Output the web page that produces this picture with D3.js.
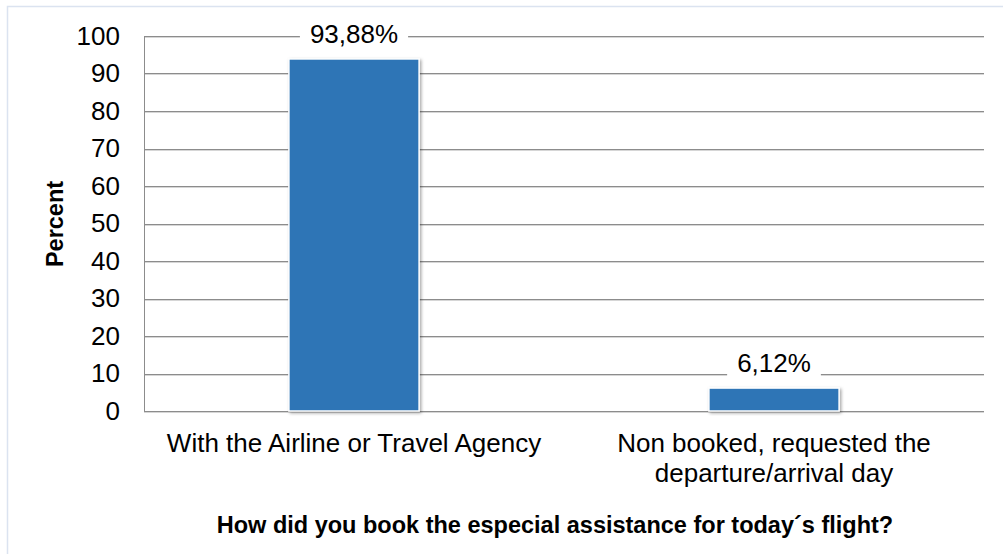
<!DOCTYPE html>
<html>
<head>
<meta charset="utf-8">
<script src="https://cdn.jsdelivr.net/npm/d3@7"></script>
<style>
  html, body { margin: 0; padding: 0; background: #fff; }
  svg { display: block; font-family: "Liberation Sans", Arial, sans-serif; }
</style>
</head>
<body>
<svg id="chart" width="1003" height="554"></svg>
<script>
// Booking channel for special assistance (percent of respondents)
const categories = [
  ["With the Airline or Travel Agency"],
  ["Non booked, requested the", "departure/arrival day"]
];
const values = [93.88, 6.12];
const valueLabels = ["93,88%", "6,12%"];
const yTicks = [0, 10, 20, 30, 40, 50, 60, 70, 80, 90, 100];
const yTitle = "Percent";
const xTitle = "How did you book the especial assistance for today\u00b4s flight?";

const FONT = "Liberation Sans, Arial, sans-serif";
const svg = d3.select("#chart");
const W = 1003, H = 554;
const margin = { left: 144, right: 19, top: 36, bottom: 143 };
const plotW = W - margin.left - margin.right;
const plotH = H - margin.top - margin.bottom;

// Outer frame
svg.append("rect")
  .attr("x", 7.5).attr("y", 6.5)
  .attr("width", W).attr("height", H)
  .attr("fill", "none").attr("stroke", "#dbe3f0").attr("stroke-width", 1.5);

const defs = svg.append("defs");
const f = defs.append("filter").attr("id", "shadow")
  .attr("x", "-20%").attr("y", "-20%").attr("width", "140%").attr("height", "140%");
f.append("feDropShadow").attr("dx", 1.5).attr("dy", 1.5).attr("stdDeviation", 1.8)
  .attr("flood-color", "#000").attr("flood-opacity", 0.35);

const g = svg.append("g").attr("transform", `translate(${margin.left},${margin.top})`);

const x = d3.scaleBand().domain(d3.range(values.length)).range([0, plotW]).paddingInner(0.69).paddingOuter(0.345);
const y = d3.scaleLinear().domain([0, 100]).range([plotH, 0]);

// Gridlines with a soft lighter line underneath
g.append("g").selectAll("line").data(yTicks).join("line")
  .attr("x1", 0).attr("x2", plotW)
  .attr("y1", d => Math.round(y(d)) + 0.5).attr("y2", d => Math.round(y(d)) + 0.5)
  .attr("stroke", "#8c8c8c").attr("stroke-width", 1);
g.append("g").selectAll("line").data(yTicks).join("line")
  .attr("x1", 0).attr("x2", plotW)
  .attr("y1", d => Math.round(y(d)) + 1.5).attr("y2", d => Math.round(y(d)) + 1.5)
  .attr("stroke", "#d6d6d6").attr("stroke-width", 1);

// Left axis line
g.append("line").attr("x1", 0.5).attr("x2", 0.5).attr("y1", 0).attr("y2", plotH)
  .attr("stroke", "#8c8c8c");

// Y tick labels
const yAxis = d3.axisLeft(y).tickValues(yTicks).tickSize(0).tickPadding(24);
const ya = g.append("g").call(yAxis);
ya.select(".domain").remove();
ya.attr("font-size", null).attr("font-family", null);
ya.selectAll("text").attr("font-size", 26).attr("fill", "#000").attr("font-family", FONT);

// Bars
g.append("g").selectAll("rect").data(values).join("rect")
  .attr("x", (d, i) => x(i)).attr("width", x.bandwidth())
  .attr("y", d => y(d)).attr("height", d => y(0) - y(d))
  .attr("fill", "#2e75b6").attr("stroke", "#ffffff").attr("stroke-width", 1.5)
  .attr("filter", "url(#shadow)");

// Value labels with white backing that interrupts the gridlines
const lab = g.append("g").selectAll("g").data(values).join("g")
  .attr("transform", (d, i) => `translate(${x(i) + x.bandwidth() / 2},${y(d) - 25})`);
const bg = lab.append("rect").attr("fill", "#fff");
const txt = lab.append("text").attr("text-anchor", "middle").attr("dy", "0.35em")
  .attr("font-size", 26).attr("fill", "#000").attr("font-family", FONT)
  .text((d, i) => valueLabels[i]);
txt.each(function (d, i) {
  const w = this.getComputedTextLength() + 20;
  d3.select(bg.nodes()[i]).attr("x", -w / 2).attr("width", w).attr("y", -15).attr("height", 30);
});

// Category labels
const cat = g.append("g").selectAll("text").data(categories).join("text")
  .attr("text-anchor", "middle").attr("font-size", 26).attr("fill", "#000").attr("font-family", FONT)
  .attr("transform", (d, i) => `translate(${x(i) + x.bandwidth() / 2},${452 - margin.top})`);
cat.selectAll("tspan").data(d => d).join("tspan")
  .attr("x", 0).attr("dy", (d, j) => j === 0 ? 0 : 30).text(d => d);

// Axis titles
svg.append("text").attr("transform", `translate(63,224) rotate(-90)`)
  .attr("text-anchor", "middle").attr("font-size", 23.5).attr("font-weight", "bold")
  .attr("font-family", FONT).text(yTitle);
svg.append("text").attr("x", 555).attr("y", 533)
  .attr("text-anchor", "middle").attr("font-size", 23.5).attr("font-weight", "bold")
  .attr("font-family", FONT).text(xTitle);
</script>
</body>
</html>
